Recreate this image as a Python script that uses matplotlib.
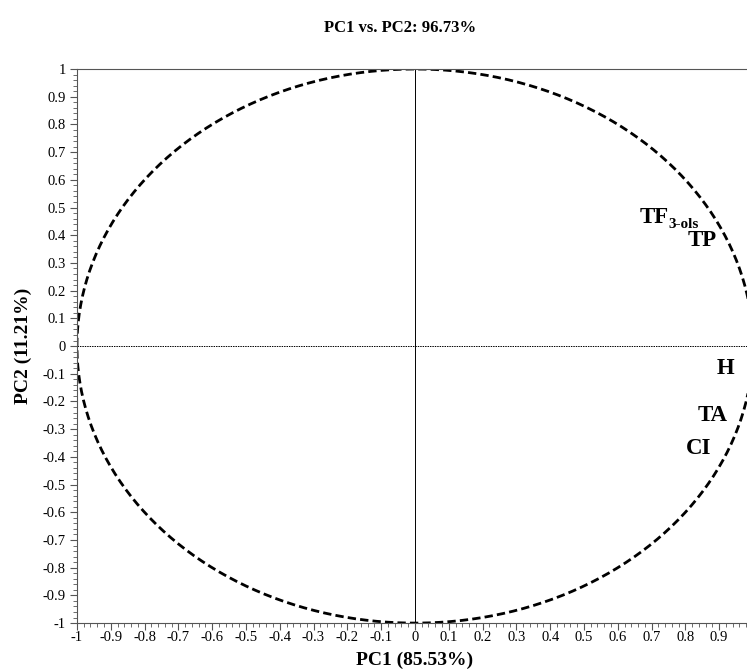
import matplotlib.pyplot as plt
import numpy as np
from matplotlib.ticker import MultipleLocator

# variable positions on the correlation circle
var_names = ["TP", "H", "TA", "CI"]
var_x = [0.85, 0.92, 0.88, 0.84]
var_y = [0.38, -0.08, -0.25, -0.37]
tf_x, tf_y = 0.75, 0.465  # TF3-ols label

plt.rcParams["font.family"] = ["Liberation Serif", "DejaVu Serif"]


def fmt(v, pos):
    if abs(v) < 1e-9:
        return "0"
    return f"{v:.1f}".rstrip("0").rstrip(".")


fig = plt.figure(figsize=(7.47, 6.70), dpi=100)
ax = fig.add_axes([0.103, 0.070, 0.905, 0.827])

t = np.linspace(0, 2 * np.pi, 400)
ax.plot(np.cos(t), np.sin(t), color="black", linestyle=(0, (3, 1.5)), linewidth=2)
ax.axhline(0, color="black", linewidth=0.7, linestyle=(0, (1.5, 1)))
ax.axvline(0, color="black", linewidth=0.7)

ax.text(tf_x, tf_y, "TF", fontsize=16.5, fontweight="bold", ha="right", va="center")
ax.annotate("3-ols", (tf_x, tf_y), xytext=(0, -5), textcoords="offset points",
            fontsize=11, fontweight="bold", ha="left", va="center")
for name, x, y in zip(var_names, var_x, var_y):
    ax.text(x, y, name, fontsize=16.5, fontweight="bold", ha="center", va="center")

ax.set_xlim(-1, 1)
ax.set_ylim(-1, 1)
ax.xaxis.set_major_locator(MultipleLocator(0.1))
ax.yaxis.set_major_locator(MultipleLocator(0.1))
ax.xaxis.set_minor_locator(MultipleLocator(0.02))
ax.yaxis.set_minor_locator(MultipleLocator(0.02))
ax.xaxis.set_major_formatter(plt.FuncFormatter(fmt))
ax.yaxis.set_major_formatter(plt.FuncFormatter(fmt))
ax.tick_params(which="major", length=5, width=0.8, labelsize=10.5, color="#555555", pad=3)
ax.tick_params(axis="x", which="major", pad=1)
ax.tick_params(which="minor", length=3, width=0.6, color="#555555")

ax.spines["top"].set_linestyle((0, (1, 1)))
ax.spines["top"].set_linewidth(0.8)
ax.spines["top"].set_color("#555555")
ax.spines["left"].set_color("#555555")
ax.spines["bottom"].set_color("#555555")
ax.spines["right"].set_visible(False)

ax.set_xlabel("PC1 (85.53%)", fontsize=14, fontweight="bold", labelpad=5)
ax.set_ylabel("PC2 (11.21%)", fontsize=14, fontweight="bold", labelpad=8)
fig.text(0.535, 0.958, "PC1 vs. PC2: 96.73%", fontsize=12, fontweight="bold",
         ha="center", va="center")

plt.savefig("out.png", dpi=100)
